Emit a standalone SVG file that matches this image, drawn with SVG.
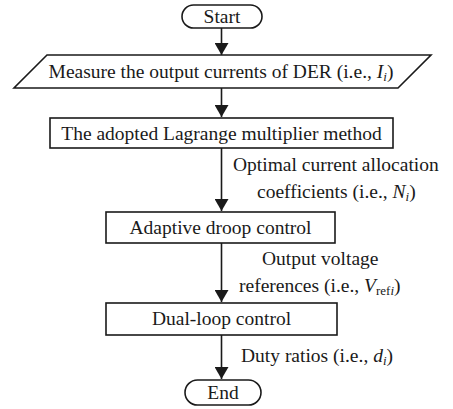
<svg xmlns="http://www.w3.org/2000/svg" width="453" height="409" viewBox="0 0 453 409" font-family="'Liberation Serif', 'Times New Roman', serif">
<defs>
<style>
.s{fill:#fff;stroke:#1a1a1a;stroke-width:1.6}
.t{font-family:'Liberation Serif','Times New Roman',serif;font-size:19.5px;fill:#1a1a1a}
.c{text-anchor:middle}
.l{stroke:#1a1a1a;stroke-width:1.6;fill:none}
</style>
<marker id="a" markerWidth="12" markerHeight="14" refX="12" refY="7" orient="auto" markerUnits="userSpaceOnUse" viewBox="0 0 12 14">
<path d="M0,0 L12,7 L0,14 Z" fill="#1a1a1a"/>
</marker>
</defs>
<g id="connectors">
<line class="l" x1="221.5" y1="28" x2="221.5" y2="55" marker-end="url(#a)"/>
<line class="l" x1="221.5" y1="88" x2="221.5" y2="117" marker-end="url(#a)"/>
<line class="l" x1="221.5" y1="148" x2="221.5" y2="211" marker-end="url(#a)"/>
<line class="l" x1="221.5" y1="243" x2="221.5" y2="302" marker-end="url(#a)"/>
<line class="l" x1="221.5" y1="335" x2="221.5" y2="379" marker-end="url(#a)"/>
<text class="t" x="233" y="171">Optimal current allocation</text>
<text class="t" x="257" y="198">coefficients (i.e., <tspan font-style="italic">N</tspan><tspan font-style="italic" font-size="13" dy="3">i</tspan><tspan dy="-3">)</tspan></text>
<text class="t" x="262" y="265">Output voltage</text>
<text class="t" x="239" y="292">references (i.e., <tspan font-style="italic">V</tspan><tspan font-size="13" dy="3">ref<tspan font-style="italic">i</tspan></tspan><tspan dy="-3">)</tspan></text>
<text class="t" x="241" y="362">Duty ratios (i.e., <tspan font-style="italic">d</tspan><tspan font-style="italic" font-size="13" dy="3">i</tspan><tspan dy="-3">)</tspan></text>
</g>
<g id="start">
<rect class="s" x="182" y="5" width="80" height="23" rx="11.5"/>
<text class="t c" x="222" y="23">Start</text>
</g>
<g id="measure">
<polygon class="s" points="47,55 431,55 398,88 14,88"/>
<text class="t c" x="221" y="78">Measure the output currents of DER (i.e., <tspan font-style="italic">I</tspan><tspan font-style="italic" font-size="13" dy="3">i</tspan><tspan dy="-3">)</tspan></text>
</g>
<g id="lagrange">
<rect class="s" x="50" y="118" width="343" height="30"/>
<text class="t c" x="221.5" y="140">The adopted Lagrange multiplier method</text>
</g>
<g id="droop">
<rect class="s" x="106" y="212" width="229" height="31"/>
<text class="t c" x="220.5" y="234">Adaptive droop control</text>
</g>
<g id="dualloop">
<rect class="s" x="106" y="303" width="231" height="32"/>
<text class="t c" x="221.5" y="325">Dual-loop control</text>
</g>
<g id="end">
<rect class="s" x="185" y="380" width="76" height="25" rx="12.5"/>
<text class="t c" x="223" y="399">End</text>
</g>
</svg>
